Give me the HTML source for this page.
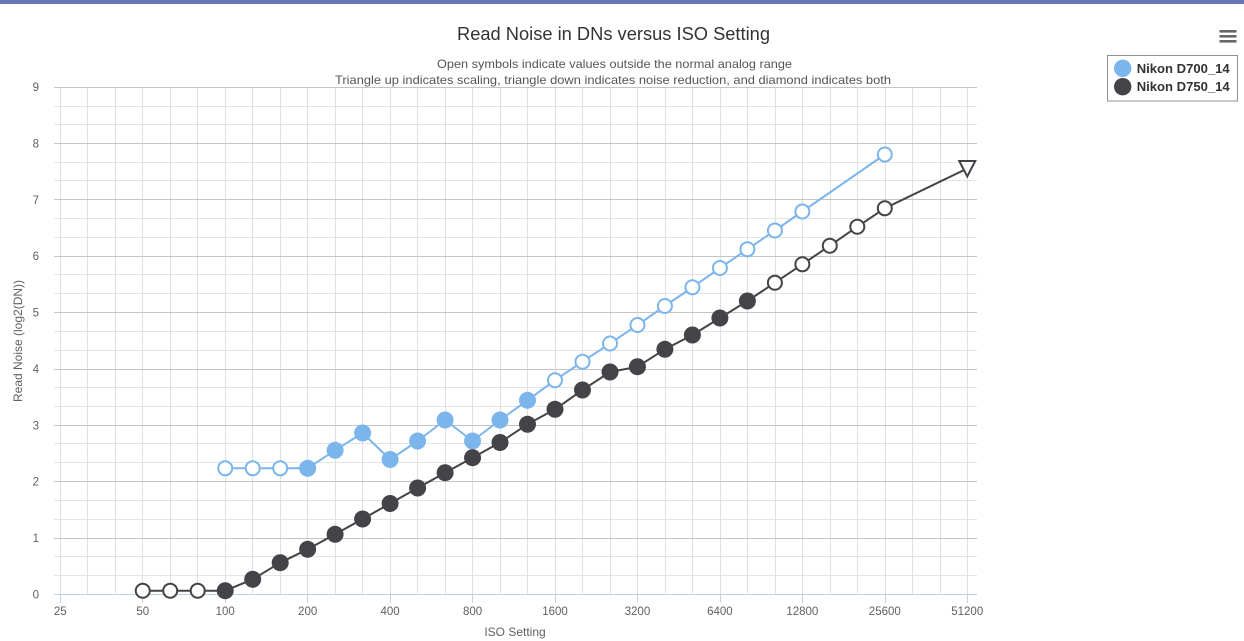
<!DOCTYPE html>
<html>
<head>
<meta charset="utf-8">
<style>
html,body{margin:0;padding:0;background:#fff;}
svg{display:block;font-family:"Liberation Sans",Arial,sans-serif;}
</style>
</head>
<body>
<svg width="1244" height="641" viewBox="0 0 1244 641" xmlns="http://www.w3.org/2000/svg">
<rect x="0" y="0" width="1244" height="641" fill="#fff"/>
<rect x="0" y="0" width="1244" height="4" fill="#6876b8"/>

<!-- minor horizontal grid -->
<g stroke="#e4e4e4" stroke-width="1">
<line x1="54" x2="977" y1="575.5" y2="575.5"/><line x1="54" x2="977" y1="556.5" y2="556.5"/>
<line x1="54" x2="977" y1="519.5" y2="519.5"/><line x1="54" x2="977" y1="500.5" y2="500.5"/>
<line x1="54" x2="977" y1="462.5" y2="462.5"/><line x1="54" x2="977" y1="443.5" y2="443.5"/>
<line x1="54" x2="977" y1="406.5" y2="406.5"/><line x1="54" x2="977" y1="387.5" y2="387.5"/>
<line x1="54" x2="977" y1="350.5" y2="350.5"/><line x1="54" x2="977" y1="331.5" y2="331.5"/>
<line x1="54" x2="977" y1="293.5" y2="293.5"/><line x1="54" x2="977" y1="274.5" y2="274.5"/>
<line x1="54" x2="977" y1="237.5" y2="237.5"/><line x1="54" x2="977" y1="218.5" y2="218.5"/>
<line x1="54" x2="977" y1="180.5" y2="180.5"/><line x1="54" x2="977" y1="162.5" y2="162.5"/>
<line x1="54" x2="977" y1="124.5" y2="124.5"/><line x1="54" x2="977" y1="106.5" y2="106.5"/>
</g>
<!-- vertical grid -->
<g stroke="#e0e0e0" stroke-width="1">
<line x1="60.5" x2="60.5" y1="87" y2="594"/><line x1="87.5" x2="87.5" y1="87" y2="594"/>
<line x1="115.5" x2="115.5" y1="87" y2="594"/><line x1="142.5" x2="142.5" y1="87" y2="594"/>
<line x1="170.5" x2="170.5" y1="87" y2="594"/><line x1="197.5" x2="197.5" y1="87" y2="594"/>
<line x1="225.5" x2="225.5" y1="87" y2="594"/><line x1="252.5" x2="252.5" y1="87" y2="594"/>
<line x1="280.5" x2="280.5" y1="87" y2="594"/><line x1="307.5" x2="307.5" y1="87" y2="594"/>
<line x1="335.5" x2="335.5" y1="87" y2="594"/><line x1="362.5" x2="362.5" y1="87" y2="594"/>
<line x1="390.5" x2="390.5" y1="87" y2="594"/><line x1="417.5" x2="417.5" y1="87" y2="594"/>
<line x1="445.5" x2="445.5" y1="87" y2="594"/><line x1="472.5" x2="472.5" y1="87" y2="594"/>
<line x1="500.5" x2="500.5" y1="87" y2="594"/><line x1="527.5" x2="527.5" y1="87" y2="594"/>
<line x1="555.5" x2="555.5" y1="87" y2="594"/><line x1="582.5" x2="582.5" y1="87" y2="594"/>
<line x1="610.5" x2="610.5" y1="87" y2="594"/><line x1="637.5" x2="637.5" y1="87" y2="594"/>
<line x1="665.5" x2="665.5" y1="87" y2="594"/><line x1="692.5" x2="692.5" y1="87" y2="594"/>
<line x1="720.5" x2="720.5" y1="87" y2="594"/><line x1="747.5" x2="747.5" y1="87" y2="594"/>
<line x1="775.5" x2="775.5" y1="87" y2="594"/><line x1="802.5" x2="802.5" y1="87" y2="594"/>
<line x1="830.5" x2="830.5" y1="87" y2="594"/><line x1="857.5" x2="857.5" y1="87" y2="594"/>
<line x1="885.5" x2="885.5" y1="87" y2="594"/><line x1="912.5" x2="912.5" y1="87" y2="594"/>
<line x1="940.5" x2="940.5" y1="87" y2="594"/><line x1="967.5" x2="967.5" y1="87" y2="594"/>
</g>
<!-- major horizontal grid -->
<g stroke="#c4c4c4" stroke-width="1">
<line x1="54" x2="977" y1="87.5" y2="87.5"/>
<line x1="54" x2="977" y1="143.5" y2="143.5"/>
<line x1="54" x2="977" y1="199.5" y2="199.5"/>
<line x1="54" x2="977" y1="256.5" y2="256.5"/>
<line x1="54" x2="977" y1="312.5" y2="312.5"/>
<line x1="54" x2="977" y1="369.5" y2="369.5"/>
<line x1="54" x2="977" y1="425.5" y2="425.5"/>
<line x1="54" x2="977" y1="481.5" y2="481.5"/>
<line x1="54" x2="977" y1="538.5" y2="538.5"/>
</g>
<!-- x axis -->
<line x1="54" x2="977" y1="594.5" y2="594.5" stroke="#c0d0e0" stroke-width="1"/>
<g stroke="#c0d0e0" stroke-width="1">
<line x1="60.5" x2="60.5" y1="594" y2="603"/><line x1="142.5" x2="142.5" y1="594" y2="603"/>
<line x1="225.5" x2="225.5" y1="594" y2="603"/><line x1="307.5" x2="307.5" y1="594" y2="603"/>
<line x1="390.5" x2="390.5" y1="594" y2="603"/><line x1="472.5" x2="472.5" y1="594" y2="603"/>
<line x1="555.5" x2="555.5" y1="594" y2="603"/><line x1="637.5" x2="637.5" y1="594" y2="603"/>
<line x1="720.5" x2="720.5" y1="594" y2="603"/><line x1="802.5" x2="802.5" y1="594" y2="603"/>
<line x1="885.5" x2="885.5" y1="594" y2="603"/><line x1="967.5" x2="967.5" y1="594" y2="603"/>
</g>

<!-- x labels -->
<g fill="#606060" font-size="11.5" text-anchor="middle">
<text x="60.3" y="615">25</text><text x="142.75" y="615">50</text>
<text x="225.2" y="615">100</text><text x="307.65" y="615">200</text>
<text x="390.1" y="615">400</text><text x="472.55" y="615">800</text>
<text x="555" y="615">1600</text><text x="637.45" y="615">3200</text>
<text x="719.9" y="615">6400</text><text x="802.35" y="615">12800</text>
<text x="884.8" y="615">25600</text><text x="967.25" y="615">51200</text>
</g>
<text x="515" y="636" fill="#606060" font-size="12" text-anchor="middle">ISO Setting</text>

<!-- y labels -->
<g fill="#606060" font-size="11.5" text-anchor="end">
<text x="39" y="598.5">0</text><text x="39" y="542">1</text>
<text x="39" y="485.5">2</text><text x="39" y="429.5">3</text>
<text x="39" y="373">4</text><text x="39" y="316.5">5</text>
<text x="39" y="260">6</text><text x="39" y="204">7</text>
<text x="39" y="147.5">8</text><text x="39" y="91">9</text>
</g>
<text transform="translate(22,341) rotate(-90)" fill="#606060" font-size="12" text-anchor="middle">Read Noise (log2(DN))</text>

<!-- titles -->
<text x="613.5" y="40" fill="#333" font-size="18" text-anchor="middle" textLength="313" lengthAdjust="spacingAndGlyphs">Read Noise in DNs versus ISO Setting</text>
<text x="614.5" y="68" fill="#555" font-size="12" text-anchor="middle" textLength="355" lengthAdjust="spacingAndGlyphs">Open symbols indicate values outside the normal analog range</text>
<text x="613" y="84" fill="#555" font-size="12" text-anchor="middle" textLength="556" lengthAdjust="spacingAndGlyphs">Triangle up indicates scaling, triangle down indicates noise reduction, and diamond indicates both</text>

<!-- D700 series -->
<polyline fill="none" stroke="#7cb5ec" stroke-width="2" stroke-linejoin="round"
points="225.2,468.3 252.7,468.3 280.2,468.3 307.65,468.3 335.1,450.3 362.6,433 390.1,459.5 417.6,441 445.1,420 472.55,441 500,420 527.5,400.3 555,380.2 582.5,361.7 610,343.5 637.45,325 664.9,306 692.4,287.3 719.9,268 747.4,249.3 774.9,230.5 802.35,211.5 884.8,154.5"/>
<g fill="#fff" stroke="#7cb5ec" stroke-width="2">
<circle cx="225.2" cy="468.3" r="7"/><circle cx="252.7" cy="468.3" r="7"/><circle cx="280.2" cy="468.3" r="7"/>
<circle cx="555" cy="380.2" r="7"/><circle cx="582.5" cy="361.7" r="7"/><circle cx="610" cy="343.5" r="7"/>
<circle cx="637.45" cy="325" r="7"/><circle cx="664.9" cy="306" r="7"/><circle cx="692.4" cy="287.3" r="7"/>
<circle cx="719.9" cy="268" r="7"/><circle cx="747.4" cy="249.3" r="7"/><circle cx="774.9" cy="230.5" r="7"/>
<circle cx="802.35" cy="211.5" r="7"/><circle cx="884.8" cy="154.5" r="7"/>
</g>
<g fill="#7cb5ec">
<circle cx="307.65" cy="468.3" r="8.5"/><circle cx="335.1" cy="450.3" r="8.5"/><circle cx="362.6" cy="433" r="8.5"/>
<circle cx="390.1" cy="459.5" r="8.5"/><circle cx="417.6" cy="441" r="8.5"/><circle cx="445.1" cy="420" r="8.5"/>
<circle cx="472.55" cy="441" r="8.5"/><circle cx="500" cy="420" r="8.5"/><circle cx="527.5" cy="400.3" r="8.5"/>
</g>

<!-- D750 series -->
<polyline fill="none" stroke="#434348" stroke-width="2" stroke-linejoin="round"
points="142.75,590.7 170.2,590.7 197.7,590.7 225.2,590.7 252.7,579.3 280.2,562.7 307.65,549.3 335.1,534.3 362.6,519 390.1,503.5 417.6,488 445.1,472.7 472.55,457.7 500,442.5 527.5,424.3 555,409.3 582.5,390 610,372 637.45,366.7 664.9,349.3 692.4,335 719.9,318 747.4,301 774.9,282.7 802.35,264.3 829.8,245.7 857.3,226.7 884.8,208.3 967.25,168.5"/>
<g fill="#fff" stroke="#434348" stroke-width="2">
<circle cx="142.75" cy="590.7" r="7"/><circle cx="170.2" cy="590.7" r="7"/><circle cx="197.7" cy="590.7" r="7"/>
<circle cx="774.9" cy="282.7" r="7"/><circle cx="802.35" cy="264.3" r="7"/><circle cx="829.8" cy="245.7" r="7"/>
<circle cx="857.3" cy="226.7" r="7"/><circle cx="884.8" cy="208.3" r="7"/>
<polygon points="959.25,161 975.25,161 967.25,176.5" stroke-linejoin="miter"/>
</g>
<g fill="#434348">
<circle cx="225.2" cy="590.7" r="8.5"/><circle cx="252.7" cy="579.3" r="8.5"/><circle cx="280.2" cy="562.7" r="8.5"/>
<circle cx="307.65" cy="549.3" r="8.5"/><circle cx="335.1" cy="534.3" r="8.5"/><circle cx="362.6" cy="519" r="8.5"/>
<circle cx="390.1" cy="503.5" r="8.5"/><circle cx="417.6" cy="488" r="8.5"/><circle cx="445.1" cy="472.7" r="8.5"/>
<circle cx="472.55" cy="457.7" r="8.5"/><circle cx="500" cy="442.5" r="8.5"/><circle cx="527.5" cy="424.3" r="8.5"/>
<circle cx="555" cy="409.3" r="8.5"/><circle cx="582.5" cy="390" r="8.5"/><circle cx="610" cy="372" r="8.5"/>
<circle cx="637.45" cy="366.7" r="8.5"/><circle cx="664.9" cy="349.3" r="8.5"/><circle cx="692.4" cy="335" r="8.5"/>
<circle cx="719.9" cy="318" r="8.5"/><circle cx="747.4" cy="301" r="8.5"/>
</g>

<!-- menu icon -->
<g fill="#666">
<rect x="1219.5" y="30" width="17" height="2.6"/>
<rect x="1219.5" y="35" width="17" height="2.6"/>
<rect x="1219.5" y="40" width="17" height="2.6"/>
</g>

<!-- legend -->
<rect x="1107.5" y="55.5" width="130" height="45.5" fill="#fff" stroke="#909090" stroke-width="1"/>
<circle cx="1122.7" cy="68.3" r="8.7" fill="#7cb5ec"/>
<circle cx="1122.7" cy="86.7" r="8.7" fill="#434348"/>
<text x="1136.7" y="72.8" fill="#333" font-size="13" font-weight="bold" textLength="93" lengthAdjust="spacingAndGlyphs">Nikon D700_14</text>
<text x="1136.7" y="91.2" fill="#333" font-size="13" font-weight="bold" textLength="93" lengthAdjust="spacingAndGlyphs">Nikon D750_14</text>
</svg>
</body>
</html>
